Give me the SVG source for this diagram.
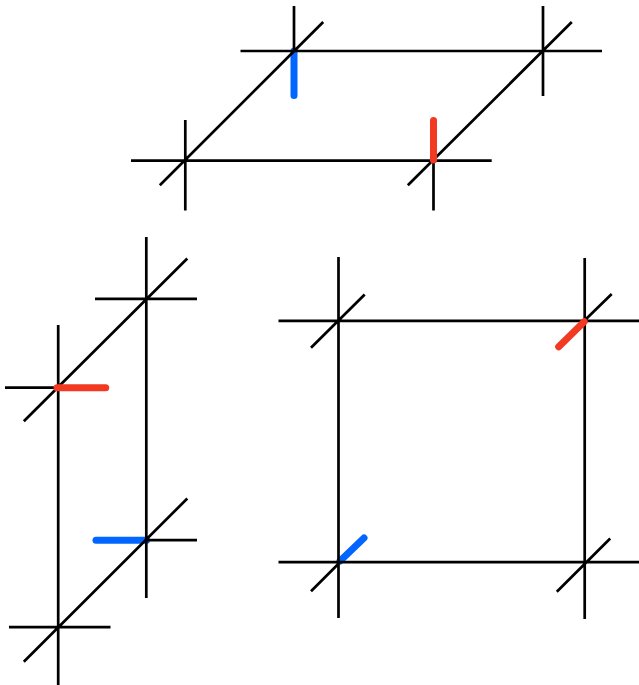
<svg xmlns="http://www.w3.org/2000/svg" width="639" height="685" viewBox="0 0 639 685">
<style>
.l{stroke:#000;stroke-width:2.7;fill:none;stroke-linecap:butt}
.r{stroke:#f23a22;stroke-width:7;fill:none;stroke-linecap:round}
.b{stroke:#0066ff;stroke-width:7;fill:none;stroke-linecap:round}
</style>
<rect width="639" height="685" fill="#fff"/>
<g id="highlights-under">
<path class="b" d="M294 51V95.500"/>
<path class="b" d="M146.500 540.200H96"/>
<path class="b" d="M340 561L364 538"/>
</g>
<g id="connectors">
<path class="l" d="M240.500 51H602M131 160.700H491.700M294 6V51M543 6V96M185.300 120V210.500M433.500 160.700V210.500M159.800 185.300L323.200 22M407.800 185.300L571.800 22"/>
<path class="l" d="M58.200 325V685M146.300 237V598M95 298.800H197M5 387.700H58M146.500 540.200H197M9 627.200H110.500M23.800 421.300L187.300 258.500M23.800 661.800L187.300 498.500"/>
<path class="l" d="M338.500 257V618M584.700 258V619M278.500 320.800H639M278.500 562.200H639M311 347.800L364.700 294.500M556.800 347.500L611.700 294M311 591.300L339 563.200M556.800 591.800L610.200 538.500"/>
</g>
<g id="highlights-over">
<path class="r" d="M433.500 160V120.500"/>
<path class="r" d="M57 387.700H105.700"/>
<path class="r" d="M558.700 346.700L584.200 321.700"/>
</g>
</svg>
